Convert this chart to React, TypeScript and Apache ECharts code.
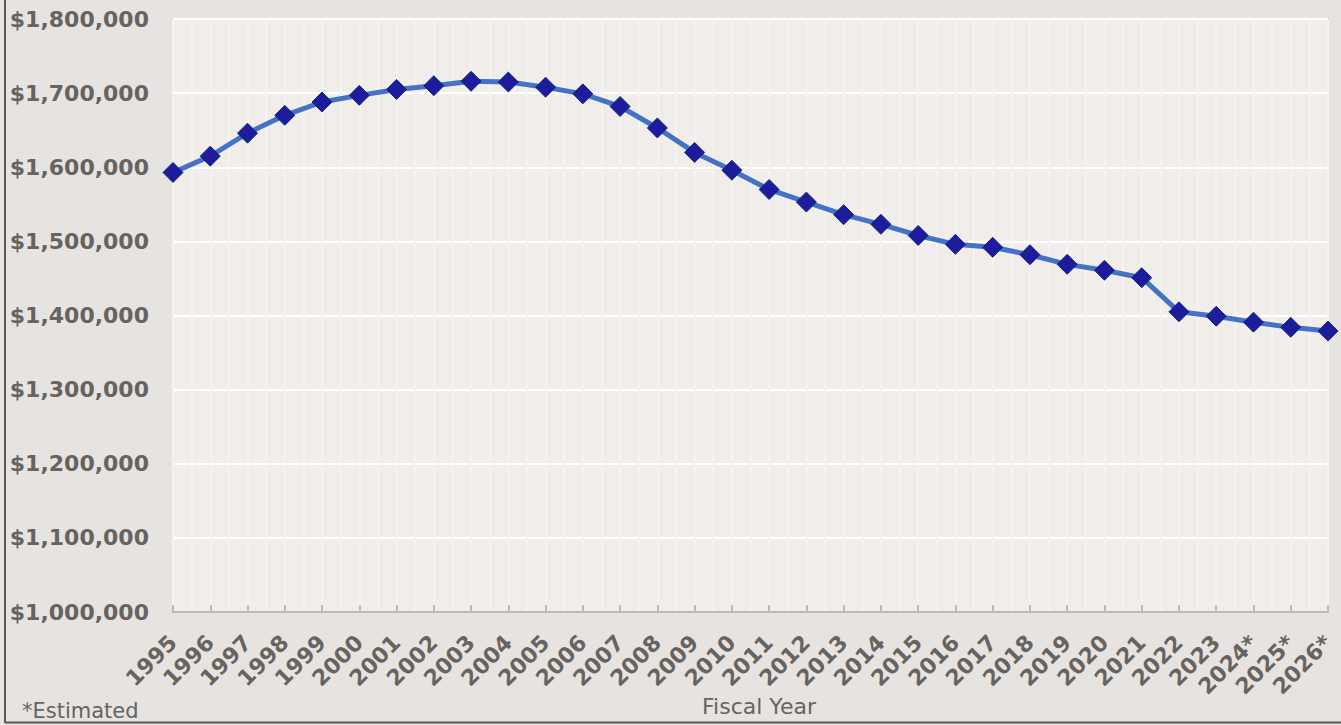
import React, { useEffect, useRef } from "react";
import * as echarts from "echarts";

// Fiscal years shown on the category axis (asterisk = estimate)
const years: string[] = [
  "1995", "1996", "1997", "1998", "1999", "2000", "2001", "2002",
  "2003", "2004", "2005", "2006", "2007", "2008", "2009", "2010",
  "2011", "2012", "2013", "2014", "2015", "2016", "2017", "2018",
  "2019", "2020", "2021", "2022", "2023", "2024*", "2025*", "2026*",
];

// Amount per fiscal year
const amounts: number[] = [
  1593000, 1615000, 1646000, 1670000, 1688000, 1697000, 1705000, 1710000,
  1716000, 1715000, 1708000, 1699000, 1682000, 1653000, 1620000, 1596000,
  1570000, 1553000, 1536000, 1523000, 1508000, 1496000, 1492000, 1482000,
  1469000, 1461000, 1451000, 1405000, 1399000, 1391000, 1384000, 1379000,
];

const yMin = 1000000;
const yMax = 1800000;
const yStep = 100000;

const textGrey = "#68635f";
const font = "'DejaVu Sans', sans-serif";

export default function App() {
  const ref = useRef<HTMLDivElement>(null);

  useEffect(() => {
    document.body.style.margin = "0";
    if (!ref.current) return;
    const chart = echarts.init(ref.current, undefined, { renderer: "svg" });
    chart.setOption({
      animation: false,
      backgroundColor: "#e6e3e0",
      grid: {
        left: 173,
        right: 13,
        top: 19,
        bottom: 113,
        outerBoundsMode: "none",
        containLabel: false,
        show: true,
        backgroundColor: "#f0edeb",
        borderColor: "#c2c0bb",
        borderWidth: 2,
      },
      xAxis: [
        {
          type: "category",
          data: years,
          boundaryGap: false,
          axisLine: { show: true, lineStyle: { color: "#bdbbb6", width: 2 } },
          axisTick: {
            show: true,
            inside: true,
            length: 7,
            lineStyle: { color: "#bdbbb6", width: 2 },
          },
          axisLabel: {
            rotate: 45,
            interval: 0,
            margin: 27,
            color: textGrey,
            fontFamily: font,
            fontWeight: "bold",
            fontSize: 22,
          },
          splitLine: { show: false },
        },
        {
          // faint vertical guides every half category
          type: "value",
          min: 0,
          max: years.length - 1,
          interval: 0.5,
          position: "top",
          axisLine: { show: false },
          axisTick: { show: false },
          axisLabel: { show: false },
          splitLine: { show: true, lineStyle: { color: "#f6f4f2", width: 2 } },
        },
      ],
      yAxis: {
        type: "value",
        min: yMin,
        max: yMax,
        interval: yStep,
        axisLine: { show: false },
        axisTick: { show: false },
        axisLabel: {
          margin: 24,
          color: textGrey,
          fontFamily: font,
          fontWeight: "bold",
          fontSize: 22,
          formatter: (v: number) => "$" + v.toLocaleString("en-US"),
        },
        splitLine: { show: true, lineStyle: { color: "#ffffff", width: 2 } },
      },
      series: [
        {
          type: "line",
          xAxisIndex: 0,
          data: amounts,
          symbol: "diamond",
          symbolSize: 20,
          lineStyle: { color: "#4472c4", width: 5 },
          itemStyle: { color: "#1c1c9c", borderColor: "#142a78", borderWidth: 1 },
          z: 5,
        },
      ],
      graphic: [
        {
          type: "line",
          shape: { x1: 5, y1: 0, x2: 5, y2: 723 },
          style: { stroke: "#5a5754", lineWidth: 2 },
        },
        {
          type: "line",
          shape: { x1: 5, y1: 722.5, x2: 1341, y2: 722.5 },
          style: { stroke: "#5a5754", lineWidth: 2 },
        },
        {
          // x-axis title
          type: "text",
          x: 759,
          y: 706,
          style: {
            text: "Fiscal Year",
            fill: textGrey,
            font: `22px ${font}`,
            textAlign: "center",
            textVerticalAlign: "middle",
          },
        },
        {
          type: "text",
          left: 22,
          top: 700,
          style: {
            text: "*Estimated",
            fill: textGrey,
            font: `21px ${font}`,
          },
        },
      ],
    });
    return () => chart.dispose();
  }, []);

  return <div ref={ref} style={{ width: 1341, height: 725 }} />;
}
